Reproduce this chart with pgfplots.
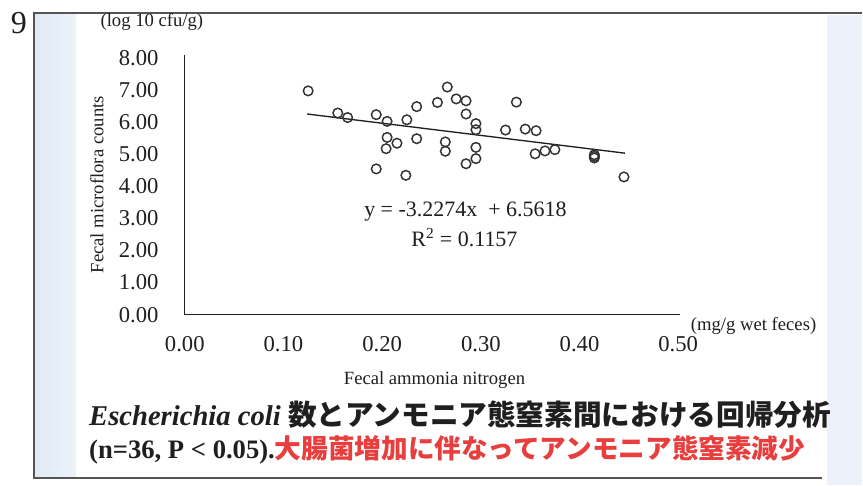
\documentclass[border=0pt]{standalone}
\usepackage{pgfplots}
\pgfplotsset{compat=1.18}
\usepackage{fontspec}
\setmainfont{Liberation Serif}
\newfontfamily\cjk{Noto Sans CJK JP}
\definecolor{txt}{rgb}{0.12,0.12,0.12}
\definecolor{redtxt}{RGB}{232,62,62}
\definecolor{stripL}{RGB}{224,234,246}
\definecolor{stripR}{RGB}{236,241,250}
\definecolor{frame}{RGB}{85,85,85}
\begin{document}
\begin{tikzpicture}[x=0.75pt,y=-0.75pt]
\path[fill=white] (0,0) rectangle (863,486);
\shade[left color=stripL, right color=stripL!60!white] (35,14) rectangle (76,478);
\fill[stripR] (828,15) rectangle (863,486);
\draw[frame,line width=1.5pt] (863,13) -- (34,13) -- (34,479) -- (823,479);
\begin{axis}[
  at={(138.75pt,-236.25pt)}, anchor=south west,
  scale only axis, width=372pt, height=195pt,
  xmin=0, xmax=0.502, ymin=0, ymax=8.09,
  axis x line*=bottom, axis y line*=left,
  axis line style={-, line width=1pt, txt},
  xtick={0,0.1,0.2,0.3,0.4,0.5},
  ytick={0,1,2,3,4,5,6,7,8},
  major tick length=0pt,
  tick label style={font=\fontsize{17}{20}\selectfont, text=txt},
  xticklabel style={inner sep=0pt, anchor=north, yshift=-16pt},
  yticklabel style={inner sep=0pt, anchor=east, xshift=-19.5pt},
  /pgf/number format/.cd, fixed, fixed zerofill, precision=2, assume math mode=true,
  /pgfplots/.cd,
  clip=false,
]
\addplot[only marks, mark=o, mark size=3.6pt, mark options={line width=1.1pt, draw=black!80}] coordinates {
(0.125,6.97) (0.155,6.28) (0.165,6.14) (0.194,6.23) (0.205,6.02) (0.225,6.07)
(0.235,6.48) (0.256,6.61) (0.266,7.09) (0.275,6.72) (0.285,6.66) (0.285,6.25)
(0.295,5.95) (0.295,5.76) (0.205,5.52) (0.215,5.34) (0.204,5.17) (0.235,5.48)
(0.264,5.38) (0.264,5.09) (0.295,5.21) (0.295,4.86) (0.285,4.70) (0.194,4.54)
(0.224,4.34) (0.325,5.75) (0.336,6.62) (0.345,5.78) (0.356,5.73) (0.355,5.01)
(0.365,5.10) (0.375,5.14) (0.415,4.98) (0.415,4.88) (0.415,4.93) (0.445,4.29)
};
\addplot[txt, line width=1pt] coordinates {(0.124,6.25) (0.446,5.03)};
\end{axis}
\node[text=txt, font=\fontsize{24}{24}\selectfont] at (19,23) {9};
\node[text=txt, font=\fontsize{14}{16}\selectfont] at (152,22) {(log 10 cfu/g)};
\node[text=txt, font=\fontsize{14}{16}\selectfont, rotate=90] at (97,185) {Fecal microflora counts};
\node[text=txt, font=\fontsize{14}{16}\selectfont, anchor=west] at (687,326) {(mg/g wet feces)};
\node[text=txt, font=\fontsize{14}{16}\selectfont] at (435,380) {Fecal ammonia nitrogen};
\node[text=txt, font=\fontsize{16.5}{18}\selectfont] at (466,212) {y = -3.2274x \ + 6.5618};
\node[text=txt, font=\fontsize{16.5}{18}\selectfont] at (465,238) {R\textsuperscript{2} = 0.1157};
\node[text=txt, font=\fontsize{21.5}{24}\selectfont\bfseries, anchor=west, inner sep=0pt] at (89,415) {\textit{Escherichia coli} {\cjk 数とアンモニア態窒素間における回帰分析}};
\node[text=txt, font=\fontsize{20}{24}\selectfont\bfseries, anchor=west, inner sep=0pt] at (89,450) {(n=36, P < 0.05).{\cjk\color{redtxt}大腸菌増加に伴なってアンモニア態窒素減少}};
\end{tikzpicture}
\end{document}
